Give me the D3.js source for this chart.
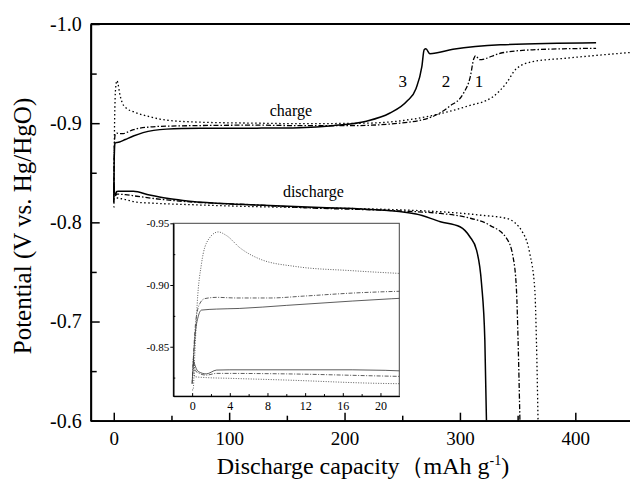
<!DOCTYPE html>
<html>
<head>
<meta charset="utf-8">
<script src="https://cdn.jsdelivr.net/npm/d3@7"></script>
<style>
  body { margin: 0; background: #fff; }
  svg { display: block; font-family: "Liberation Serif", "Times New Roman", serif; }
</style>
</head>
<body>
<script>
// charge curves (capacity in mAh/g, potential in V vs Hg/HgO)
var cap3Charge = [0, 0.3, 0.64, 1.0, 2.6, 5, 10, 17, 25.4, 45.7, 75, 124, 161, 190, 219, 239, 254, 262, 267, 269, 270.5, 274, 294, 335, 418];
var pot3Charge = [-0.82, -0.858, -0.8743, -0.8797, -0.8805, -0.881, -0.8835, -0.887, -0.8905, -0.894, -0.8948, -0.895, -0.8955, -0.8975, -0.902, -0.910, -0.922, -0.935, -0.957, -0.974, -0.975, -0.970, -0.9745, -0.979, -0.981];

var cap2Charge = [0, 0.4, 0.82, 1.35, 2.6, 4.7, 8.3, 11.8, 17.1, 22.5, 45.7, 124, 161, 205, 248, 277, 291, 303, 309, 312, 313.5, 317, 335, 363, 418];
var pot2Charge = [-0.82, -0.8716, -0.885, -0.889, -0.890, -0.8895, -0.8895, -0.891, -0.8935, -0.895, -0.897, -0.898, -0.8975, -0.8975, -0.900, -0.907, -0.917, -0.930, -0.947, -0.965, -0.968, -0.964, -0.9705, -0.974, -0.9755];

var cap1Charge = [0, 0.1, 0.29, 0.54, 1.0, 1.7, 2.77, 3.66, 5.1, 7.2, 11, 17, 31, 46, 75, 124, 161, 219, 277, 306, 329, 340, 349, 363, 392, 450];
var pot1Charge = [-0.815, -0.815, -0.845, -0.885, -0.9176, -0.9365, -0.943, -0.940, -0.930, -0.921, -0.915, -0.9116, -0.9065, -0.903, -0.901, -0.900, -0.8995, -0.900, -0.908, -0.917, -0.927, -0.940, -0.955, -0.962, -0.9655, -0.9715];

// discharge curves
var cap3Dis = [0.1, 0.64, 1.5, 2.6, 4, 17, 31, 46, 60, 89, 124, 179, 219, 262, 283, 300, 308.6, 314.4, 318.7, 321.6, 323];
var pot3Dis = [-0.84, -0.830, -0.828, -0.8311, -0.8313, -0.8313, -0.8276, -0.8242, -0.822, -0.8192, -0.8175, -0.815, -0.8132, -0.8085, -0.8007, -0.7956, -0.7855, -0.772, -0.7385, -0.681, -0.6];

var cap2Dis = [0.1, 0.4, 1.5, 2.6, 10, 20, 46, 75, 124, 161, 248, 283, 306, 326, 340.4, 346, 349, 350.4, 352];
var pot2Dis = [-0.838, -0.830, -0.827, -0.8284, -0.828, -0.8263, -0.8226, -0.820, -0.8175, -0.815, -0.8115, -0.809, -0.805, -0.797, -0.7839, -0.7654, -0.7318, -0.681, -0.6];

var cap1Dis = [0.1, 0.3, 1.5, 4, 10, 20, 31, 75, 124, 161, 283, 320, 340.4, 354.8, 360.5, 364.9, 366.3, 367.7];
var pot1Dis = [-0.835, -0.8257, -0.825, -0.8244, -0.823, -0.8203, -0.8195, -0.8175, -0.8158, -0.815, -0.8107, -0.807, -0.804, -0.789, -0.7688, -0.7318, -0.681, -0.6];

var xTicks = [0, 100, 200, 300, 400];
var yTicks = [-1.0, -0.9, -0.8, -0.7, -0.6];
var insetXTicks = [0, 4, 8, 12, 16, 20];
var insetYTicks = [-0.95, -0.90, -0.85];

var series = [
  {cap: cap3Charge, pot: pot3Charge, style: "solid"},
  {cap: cap2Charge, pot: pot2Charge, style: "dashdot"},
  {cap: cap1Charge, pot: pot1Charge, style: "dot"},
  {cap: cap3Dis, pot: pot3Dis, style: "solid"},
  {cap: cap2Dis, pot: pot2Dis, style: "dashdot"},
  {cap: cap1Dis, pot: pot1Dis, style: "dot"}
];

var svg = d3.select("body").append("svg")
    .attr("width", 630)
    .attr("height", 482);

var x = d3.scaleLinear().domain([-20, 450]).range([90.7, 633]);
var y = d3.scaleLinear().domain([-1.0, -0.6]).range([24, 420.7]);

svg.append("clipPath").attr("id", "mainclip")
  .append("rect")
    .attr("x", x.range()[0]).attr("y", y.range()[0])
    .attr("width", x.range()[1] - x.range()[0])
    .attr("height", y.range()[1] - y.range()[0]);

function pts(s) { return s.cap.map(function(c, i) { return [c, s.pot[i]]; }); }

var dashes = {solid: null, dashdot: "5,2,1.5,2", dot: "1.5,2.5"};

var mainLine = d3.line().curve(d3.curveMonotoneX)
    .x(function(d) { return x(d[0]); })
    .y(function(d) { return y(d[1]); });

svg.append("g").attr("clip-path", "url(#mainclip)")
  .selectAll("path").data(series).enter().append("path")
    .attr("d", function(s) { return mainLine(pts(s)); })
    .attr("fill", "none")
    .attr("stroke", "#000")
    .attr("stroke-width", function(s) { return s.style == "solid" ? 1.5 : 1.3; })
    .attr("stroke-dasharray", function(s) { return dashes[s.style]; });

// main axes
var xAxis = svg.append("g").attr("transform", "translate(0," + y(-0.6) + ")")
    .call(d3.axisBottom(x).tickValues(xTicks).tickSizeInner(-8).tickSizeOuter(0).tickPadding(11));
svg.append("g").attr("transform", "translate(0," + y(-0.6) + ")")
    .call(d3.axisBottom(x).tickValues([50, 150, 250, 350]).tickSizeInner(-5).tickSizeOuter(0).tickFormat(""));
var yAxis = svg.append("g").attr("transform", "translate(" + x(-20) + ",0)")
    .call(d3.axisLeft(y).tickValues(yTicks).tickSizeInner(-9).tickSizeOuter(0).tickPadding(9)
      .tickFormat(function(d) { return d.toFixed(1); }));
svg.append("g").attr("transform", "translate(" + x(-20) + ",0)")
    .call(d3.axisLeft(y).tickValues([-0.95, -0.85, -0.75, -0.65]).tickSizeInner(-6).tickSizeOuter(0).tickFormat(""));

svg.selectAll(".domain").attr("stroke-width", 1.8);
svg.selectAll(".tick line").attr("stroke-width", 1.5);
xAxis.selectAll("text").attr("font-size", 19).attr("font-family", "Liberation Serif");
yAxis.selectAll("text").attr("font-size", 20).attr("font-family", "Liberation Serif");

svg.append("line")
    .attr("x1", x(-20)).attr("x2", x(450))
    .attr("y1", y(-1.0)).attr("y2", y(-1.0))
    .attr("stroke", "#000").attr("stroke-width", 1.8);

// axis titles
svg.append("text")
    .attr("transform", "translate(31,226) rotate(-90)")
    .attr("text-anchor", "middle")
    .attr("font-size", 25)
    .text("Potential (V vs. Hg/HgO)");

var xt = svg.append("text")
    .attr("x", 363).attr("y", 474)
    .attr("text-anchor", "middle")
    .attr("font-size", 24);
xt.append("tspan").text("Discharge capacity\uFF08mAh g");
xt.append("tspan").attr("dy", -9).attr("font-size", 14).text("-1");
xt.append("tspan").attr("dy", 9).text(")");

// curve labels
svg.append("text").attr("x", x(153.5)).attr("y", y(-0.907))
    .attr("text-anchor", "middle").attr("font-size", 16).text("charge");
svg.append("text").attr("x", x(173)).attr("y", y(-0.8256))
    .attr("text-anchor", "middle").attr("font-size", 16).text("discharge");
svg.append("text").attr("x", x(250.5)).attr("y", y(-0.9365))
    .attr("text-anchor", "middle").attr("font-size", 17).text("3");
svg.append("text").attr("x", x(288)).attr("y", y(-0.9365))
    .attr("text-anchor", "middle").attr("font-size", 17).text("2");
svg.append("text").attr("x", x(316.5)).attr("y", y(-0.9365))
    .attr("text-anchor", "middle").attr("font-size", 17).text("1");

// inset: first 20 mAh/g
var ix = d3.scaleLinear().domain([-2, 22]).range([173.3, 399.3]);
var iy = d3.scaleLinear().domain([-0.95, -0.81]).range([223.3, 396.1]);

svg.append("rect")
    .attr("x", ix(-2)).attr("y", iy(-0.95))
    .attr("width", ix(22) - ix(-2)).attr("height", iy(-0.81) - iy(-0.95))
    .attr("fill", "#fff").attr("stroke", "#444").attr("stroke-width", 1);

svg.append("clipPath").attr("id", "insetclip")
  .append("rect")
    .attr("x", ix(-2)).attr("y", iy(-0.95))
    .attr("width", ix(22) - ix(-2)).attr("height", iy(-0.81) - iy(-0.95));

var insetLine = d3.line().curve(d3.curveMonotoneX)
    .x(function(d) { return ix(d[0]); })
    .y(function(d) { return iy(d[1]); });

svg.append("g").attr("clip-path", "url(#insetclip)")
  .selectAll("path").data(series).enter().append("path")
    .attr("d", function(s) { return insetLine(pts(s)); })
    .attr("fill", "none")
    .attr("stroke", "#333")
    .attr("stroke-width", 0.8)
    .attr("stroke-dasharray", function(s) {
      return s.style == "dot" ? "1,1.5" : s.style == "dashdot" ? "4,1.5,1,1.5" : null;
    });

var ixAxis = svg.append("g").attr("transform", "translate(0," + iy(-0.81) + ")")
    .call(d3.axisBottom(ix).tickValues(insetXTicks).tickSizeInner(-3).tickSizeOuter(0).tickPadding(5));
svg.append("g").attr("transform", "translate(0," + iy(-0.81) + ")")
    .call(d3.axisBottom(ix).tickValues([2, 6, 10, 14, 18]).tickSizeInner(-2).tickSizeOuter(0).tickFormat(""));
var iyAxis = svg.append("g").attr("transform", "translate(" + ix(-2) + ",0)")
    .call(d3.axisLeft(iy).tickValues(insetYTicks).tickSizeInner(3).tickSizeOuter(0).tickPadding(1)
      .tickFormat(function(d) { return d.toFixed(2); }));
svg.append("g").attr("transform", "translate(" + ix(-2) + ",0)")
    .call(d3.axisLeft(iy).tickValues([-0.925, -0.875, -0.825]).tickSizeInner(-2).tickSizeOuter(0).tickFormat(""));

ixAxis.selectAll("text").attr("font-size", 12).attr("font-family", "Liberation Serif");
iyAxis.selectAll("text").attr("font-size", 11).attr("font-family", "Liberation Serif");
</script>
</body>
</html>
